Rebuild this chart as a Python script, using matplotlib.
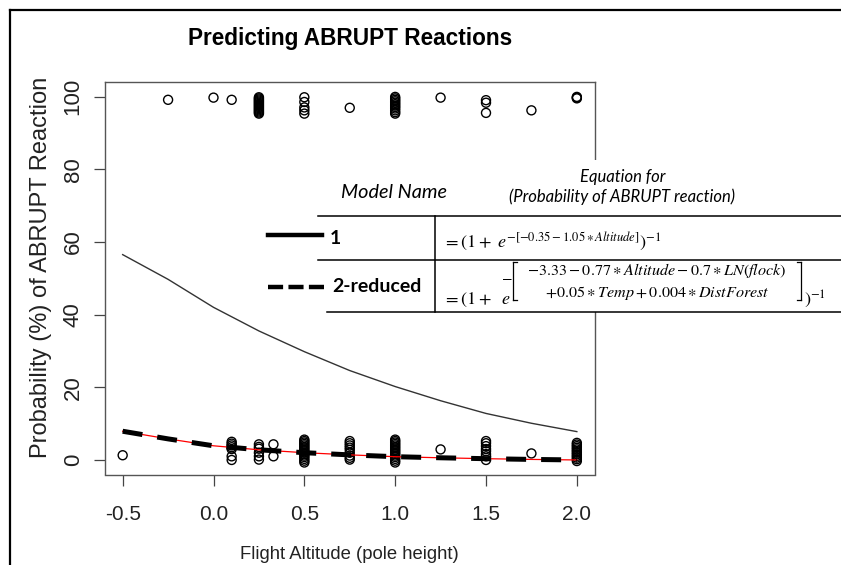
import matplotlib
matplotlib.use("Agg")
import matplotlib.pyplot as plt
from matplotlib.lines import Line2D
from matplotlib.patches import Rectangle

plt.rcParams["font.family"] = ["Liberation Sans", "DejaVu Sans"]
plt.rcParams["mathtext.fontset"] = "stix"
plt.rcParams["axes.unicode_minus"] = False

# --- donnees ---
# points observes : reaction ABRUPT (haut) et pas de reaction (bas), avec jitter
abrupt_x = [-0.25, 0.0, 0.1] + [0.25] * 16 + [0.5] * 5 + [0.75] + [1.0] * 12 \
    + [1.25] + [1.5] * 3 + [1.75] + [2.0] * 3
abrupt_y = [99.1, 99.7, 99.1,
            99.8, 99.5, 99.2, 98.9, 98.6, 98.3, 98.0, 97.7, 97.4, 97.1, 96.8,
            96.5, 96.2, 95.9, 95.6, 95.3,
            99.8, 98.5, 97.0, 96.2, 95.3,
            96.9,
            99.9, 99.5, 99.1, 98.7, 98.3, 97.9, 97.5, 97.1, 96.7, 96.2, 95.7, 95.3,
            99.7,
            99.0, 98.3, 95.5,
            96.2,
            99.9, 99.7, 99.5]

calme_x = [-0.5] + [0.1] * 7 + [0.25] * 6 + [0.33] * 2 + [0.5] * 16 + [0.75] * 9 \
    + [1.0] * 16 + [1.25] + [1.5] * 8 + [1.75] + [2.0] * 12
calme_y = [1.3,
           5.0, 4.5, 4.0, 3.5, 3.0, 1.0, 0.0,
           4.3, 3.6, 3.1, 2.0, 1.0, 0.1,
           4.3, 1.0,
           5.6, 5.2, 4.8, 4.4, 4.0, 3.6, 3.2, 2.8, 2.4, 2.0, 1.6, 1.2, 0.8, 0.3,
           -0.2, -0.7,
           5.2, 4.6, 4.0, 3.4, 2.8, 2.0, 1.2, 0.6, 0.1,
           5.6, 5.2, 4.8, 4.4, 4.0, 3.6, 3.2, 2.8, 2.4, 2.0, 1.6, 1.2, 0.8, 0.3,
           -0.2, -0.7,
           2.9,
           5.2, 4.6, 3.8, 3.0, 2.4, 1.6, 1.0, 0.0,
           1.8,
           4.7, 4.25, 3.8, 3.35, 2.9, 2.45, 2.0, 1.55, 1.1, 0.65, 0.2, -0.3]

# courbes predites
altitude = [-0.5, -0.25, 0.0, 0.25, 0.5, 0.75, 1.0, 1.25, 1.5, 1.75, 2.0]
modele_1 = [56.5, 49.7, 42.0, 35.5, 29.8, 24.6, 20.2, 16.3, 12.8, 10.1, 7.8]
modele_2 = [7.9, 5.8, 3.9, 2.8, 2.0, 1.4, 0.9, 0.6, 0.35, 0.15, 0.0]

x_ticks = [-0.5, 0.0, 0.5, 1.0, 1.5, 2.0]
y_ticks = [0, 20, 40, 60, 80, 100]

W, H = 841, 565


def px(x, y):
    """pixels de l'image -> coordonnees figure"""
    return x / W, 1 - y / H


fig = plt.figure(figsize=(W / 100, H / 100), dpi=100)
ax = fig.add_axes([104.5 / W, 1 - 474.5 / H, 490.5 / W, 392.5 / H])

ax.scatter(abrupt_x, abrupt_y, s=42, facecolors="none", edgecolors="black",
           linewidths=1.0, zorder=3)
ax.scatter(calme_x, calme_y, s=42, facecolors="none", edgecolors="black",
           linewidths=1.0, zorder=3)

ax.plot(altitude, modele_1, color="#333333", lw=1.0, zorder=2)
ax.plot(altitude, modele_2, color="red", lw=0.9, zorder=4)
ax.plot(altitude, modele_2, color="black", lw=3.6, dashes=(4.0, 3.0), zorder=5)

ax.set_xlim(-0.6, 2.1)
ax.set_ylim(-4, 104)
ax.set_xticks(x_ticks)
ax.set_xticklabels([f"{v:.1f}" for v in x_ticks])
ax.set_yticks(y_ticks)
ax.set_yticklabels([str(v) for v in y_ticks], rotation=90, va="center")
ax.tick_params(length=8, width=0.9, color="#444444", labelsize=15,
               labelcolor="#222222")
ax.tick_params(axis="x", pad=14)
ax.tick_params(axis="y", pad=7, labelsize=16)
for s in ax.spines.values():
    s.set_color("#555555")
    s.set_linewidth(1.0)

ax.set_title("Predicting ABRUPT Reactions", fontsize=16.3, fontweight="bold",
             y=1.112, pad=0, va="center")
ax.set_xlabel("Flight Altitude (pole height)", fontsize=13.3, color="#222222")
ax.xaxis.set_label_coords(0.5, -0.205)
ax.xaxis.label.set_va("center")
ax.set_ylabel("Probability (%) of ABRUPT Reaction", fontsize=17, color="#222222")
ax.yaxis.set_label_coords(-0.13, 0.528)
ax.yaxis.label.set_va("center")

# cadre de la diapo (haut et gauche)
fig.add_artist(Line2D([px(10, 0)[0], 1], [px(0, 10)[1]] * 2, color="black", lw=1.6))
fig.add_artist(Line2D([px(10, 0)[0]] * 2, [px(0, 10)[1], 0], color="black", lw=1.6))

# tableau legende colle par-dessus le graphique
x0, y0 = px(255, 312)
x1, y1 = px(W, 160)
fig.add_artist(Rectangle((x0, y0), x1 - x0, y1 - y0, facecolor="white",
                         edgecolor="none", zorder=10))


def trait(x_a, y_a, x_b, y_b, **kw):
    (xa, ya), (xb, yb) = px(x_a, y_a), px(x_b, y_b)
    fig.add_artist(Line2D([xa, xb], [ya, yb], zorder=11, **kw))


trait(318, 216, W, 216, color="black", lw=1.1)
trait(318, 260, W, 260, color="black", lw=1.1)
trait(327, 312, W, 312, color="black", lw=1.1)
trait(435, 216, 435, 312, color="black", lw=1.1)

trait(268, 235, 322, 235, color="black", lw=3.2)
trait(268, 287, 325, 287, color="black", lw=3.2, dashes=(3.4, 1.2))


def texte(x, y, s, **kw):
    fig.text(*px(x, y), s, zorder=12, **kw)


lato = ["Lato", "DejaVu Sans"]
texte(341, 193, "Model Name", family=lato, style="italic", fontsize=14.3,
      va="center", ha="left")
texte(623, 177, "Equation for", family=lato, style="italic", fontsize=12,
      va="center", ha="center")
texte(622, 197, "(Probability of ABRUPT reaction)", family=lato, style="italic",
      fontsize=12, va="center", ha="center")
texte(330, 238, "1", family=lato, fontweight="bold", fontsize=14,
      va="center", ha="left")
texte(332, 287, "2-reduced", family=lato, fontweight="bold", fontsize=14,
      va="center", ha="left")

# equations
texte(443, 247, r"$=(1+\ e^{-[-0.35-1.05\ast Altitude]})^{-1}$", fontsize=13,
      va="baseline", ha="left")
texte(443, 304, r"$=(1+\ \ e$", fontsize=13, va="baseline", ha="left")
texte(507, 277, r"$-$", fontsize=11, va="center", ha="center")
texte(657, 271, r"$-3.33-0.77\ast Altitude-0.7\ast LN(flock)$", fontsize=11.6,
      va="center", ha="center")
texte(657, 292.5, r"$+0.05\ast Temp+0.004\ast DistForest$", fontsize=11.6,
      va="center", ha="center")
trait(517, 262, 513, 262, color="black", lw=0.9)
trait(513, 262, 513, 300, color="black", lw=0.9)
trait(513, 300, 517, 300, color="black", lw=0.9)
trait(797, 262, 801, 262, color="black", lw=0.9)
trait(801, 262, 801, 300, color="black", lw=0.9)
trait(801, 300, 797, 300, color="black", lw=0.9)
texte(804, 305, r"$)^{-1}$", fontsize=13, va="baseline", ha="left")

fig.savefig("out.png", dpi=100)
